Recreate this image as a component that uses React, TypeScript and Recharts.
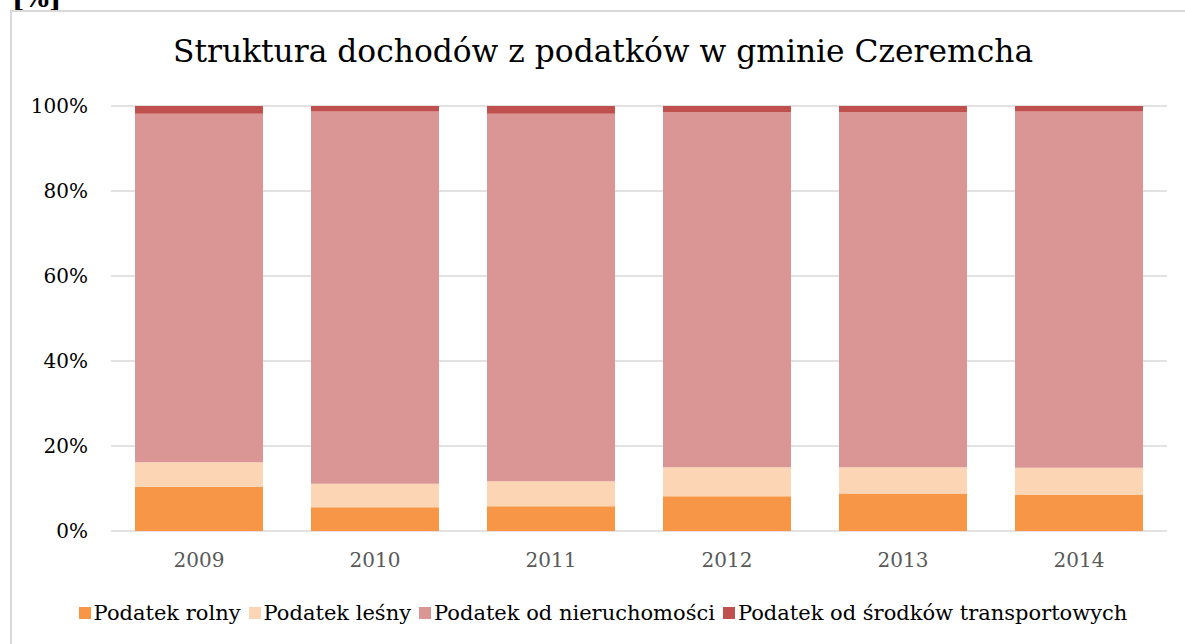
import { Bar, BarChart, CartesianGrid, XAxis, YAxis } from "recharts";

const years = ["2009", "2010", "2011", "2012", "2013", "2014"];
const rolny = [10.4, 5.6, 5.8, 8.2, 8.8, 8.5];
const lesny = [5.8, 5.5, 5.9, 6.8, 6.2, 6.4];
const nieruchomosci = [82.0, 87.6, 86.5, 83.6, 83.6, 83.8];
const transportowe = [1.8, 1.3, 1.8, 1.4, 1.4, 1.3];
const yTicks = [0, 20, 40, 60, 80, 100];

const series = [
  { key: "rolny", name: "Podatek rolny", color: "#F79646" },
  { key: "lesny", name: "Podatek leśny", color: "#FCD5B5" },
  { key: "nieruchomosci", name: "Podatek od nieruchomości", color: "#D99694" },
  { key: "transportowe", name: "Podatek od środków transportowych", color: "#C0504D" },
];

const data = years.map((year, i) => ({
  year,
  rolny: rolny[i],
  lesny: lesny[i],
  nieruchomosci: nieruchomosci[i],
  transportowe: transportowe[i],
}));

const font = "'DejaVu Serif', serif";

const App = () => {
  return (
    <div style={{ position: "absolute", left: 0, top: 0, width: 1185, height: 644, overflow: "hidden", background: "#fff" }}>
      <div
        style={{
          position: "absolute",
          left: 12,
          top: -17,
          fontFamily: font,
          fontWeight: "bold",
          fontSize: 26,
          color: "#000",
        }}
      >
        [%]
      </div>
      <div
        style={{
          position: "absolute",
          left: 10,
          top: 10,
          width: 1300,
          height: 700,
          borderTop: "2px solid #d9d9d9",
          borderLeft: "2px solid #d9d9d9",
          boxSizing: "border-box",
        }}
      />
      <div
        style={{
          position: "absolute",
          left: 10,
          width: 1186,
          top: 33,
          textAlign: "center",
          fontFamily: font,
          fontSize: 31.3,
          color: "#000",
        }}
      >
        Struktura dochodów z podatków w gminie Czeremcha
      </div>
      <div style={{ position: "absolute", left: 0, top: 0 }}>
        <BarChart
          width={1185}
          height={644}
          data={data}
          margin={{ top: 106, right: 18, bottom: 83, left: 0 }}
        >
          <CartesianGrid vertical={false} stroke="#d9d9d9" strokeWidth={1.5} />
          <XAxis
            dataKey="year"
            height={30}
            axisLine={false}
            tickLine={false}
            tickSize={0}
            tickMargin={22}
            tick={{ fill: "#595959", fontSize: 20, fontFamily: font }}
          />
          <YAxis
            width={111}
            domain={[0, 100]}
            ticks={yTicks}
            axisLine={false}
            tickLine={false}
            tickSize={0}
            tickMargin={23}
            tickFormatter={(v: number) => `${v}%`}
            tick={{ fill: "#000", fontSize: 20, fontFamily: font }}
          />
          {series.map((s) => (
            <Bar
              key={s.key}
              dataKey={s.key}
              name={s.name}
              stackId="a"
              fill={s.color}
              barSize={128}
              isAnimationActive={false}
            />
          ))}
        </BarChart>
      </div>
      <div
        style={{
          position: "absolute",
          left: 10,
          width: 1194,
          top: 600,
          display: "flex",
          justifyContent: "center",
          fontFamily: font,
          fontSize: 21,
          color: "#000",
          lineHeight: "26px",
        }}
      >
        {series.map((s) => (
          <div key={s.key} style={{ display: "flex", alignItems: "center", marginRight: 8 }}>
            <span style={{ width: 12, height: 12, background: s.color, marginRight: 3, display: "inline-block" }} />
            <span>{s.name}</span>
          </div>
        ))}
      </div>
    </div>
  );
};

export default App;
